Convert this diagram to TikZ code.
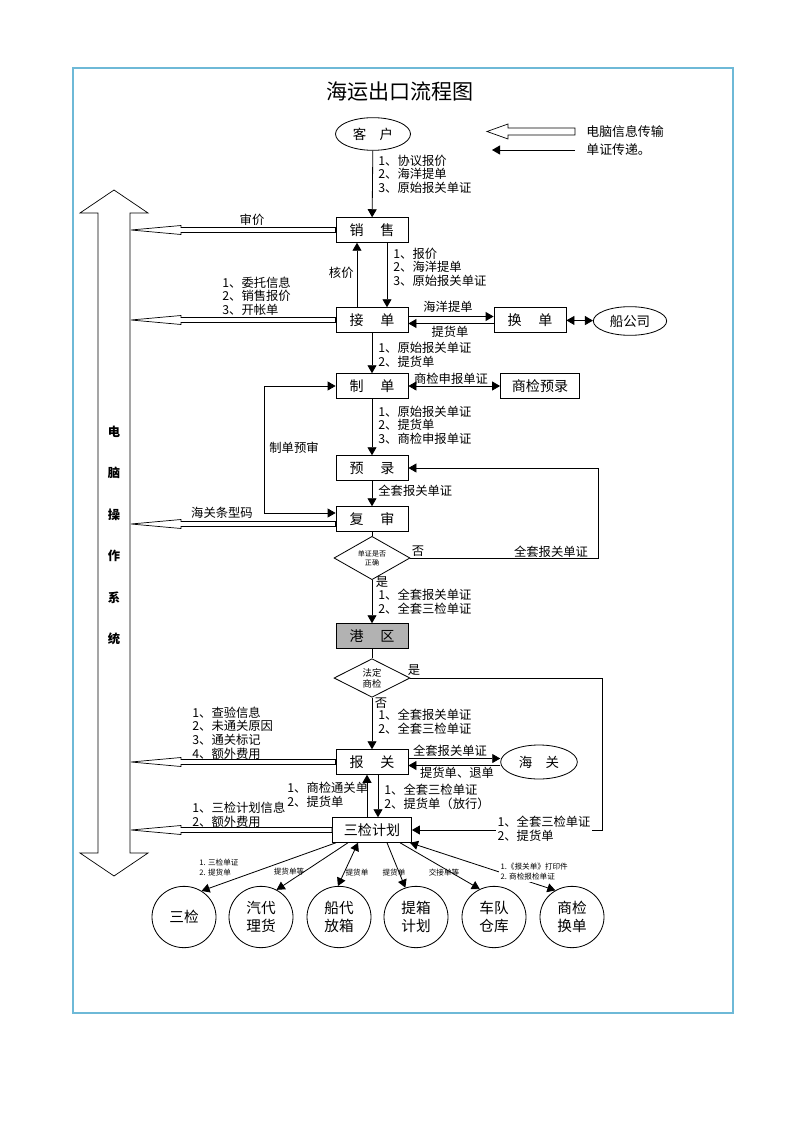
\documentclass[tikz,border=0pt]{standalone}
\usepackage{fontspec}
\setmainfont{Noto Sans CJK SC}
\usetikzlibrary{arrows.meta,shapes.geometric,positioning}
\definecolor{framecol}{RGB}{110,185,215}

\begin{document}
\begin{tikzpicture}
[x=0.03cm,y=-0.03cm,line width=0.7pt,
>={Triangle[length=2.4mm,width=2.7mm]},
box/.style={draw,rectangle,minimum width=2.16cm,minimum height=0.74cm,inner sep=0pt,font=\fontsize{12}{14}\selectfont},
oval/.style={draw,ellipse,inner sep=0pt,font=\fontsize{11.5}{14}\selectfont},
dia/.style={draw,diamond,minimum width=2.28cm,minimum height=1.12cm,inner sep=0pt,align=center},
circ/.style={draw,ellipse,minimum width=1.92cm,minimum height=1.84cm,inner sep=0pt,align=center,font=\fontsize{12.5}{15.5}\selectfont},
lbl/.style={inner sep=0pt,align=left,anchor=west,font=\fontsize{10.5}{11.6}\selectfont},
tiny/.style={inner sep=0pt,align=left,font=\fontsize{6.5}{8.5}\selectfont},
hollow/.style={draw,fill=white,line width=0.6pt,to path={([shift={(0,-2.5)}]\tikztostart) -- ([shift={(50,-2.5)}]\tikztotarget) -- ([shift={(50,-4.5)}]\tikztotarget) -- (\tikztotarget) -- ([shift={(50,4.5)}]\tikztotarget) -- ([shift={(50,2.5)}]\tikztotarget) -- ([shift={(0,2.5)}]\tikztostart) -- cycle}}]
\fill[white] (0,0) rectangle (800,1132);
\useasboundingbox (0,0) rectangle (800,1132);
\draw[framecol,line width=1.1pt] (73,68) rectangle (733,1013);

% title and legend
\node[font=\fontsize{18}{20}\selectfont] (title) at (400,92) {海运出口流程图};
\draw[line width=0.6pt] (575,128) -- (508,128) -- (508,124) -- (487,131.5) -- (508,139) -- (508,135) -- (575,135) -- cycle;
\coordinate (lga) at (575,150);
\coordinate (lgb) at (492,150);
\draw[->] (lga) -- (lgb);
\node[lbl,font=\fontsize{11}{13}\selectfont] (leg1) at (586,132) {电脑信息传输};
\node[lbl,font=\fontsize{11}{13}\selectfont] (leg2) at (586,150) {单证传递。};

% computer system
\draw[fill=white,line width=0.6pt] (98,853) -- (98,213) -- (80,213) -- (114,190) -- (148,213) -- (130,213) -- (130,853) -- (148,853) -- (114,876) -- (80,853) -- cycle;
\foreach \t [count=\i] in {电,脑,操,作,系,统}
  \node[font=\fontsize{10.5}{12}\selectfont\bfseries] (v\i) at (114,390+41.5*\i) {\t};
\coordinate (sysr) at (131,0);

% main flow
\node[oval,minimum width=2.25cm,minimum height=0.98cm] (kh) at (373,134) {客\hspace{1em}户};
\node[box] (xs) at (372,230) {销\hspace{1.2em}售};
\node[box] (jd) at (372,320) {接\hspace{1.2em}单};
\node[box] (hd) at (530,320) {换\hspace{1.2em}单};
\node[oval,minimum width=2.2cm,minimum height=0.86cm] (cgs) at (630,321) {船公司};
\node[box] (zd) at (372,386) {制\hspace{1.2em}单};
\node[box,minimum width=2.37cm] (sjyl) at (540,386) {商检预录};
\node[box] (yl) at (372,468) {预\hspace{1.2em}录};
\node[box] (fs) at (372,519) {复\hspace{1.2em}审};
\node[dia,font=\fontsize{6}{7.5}\selectfont] (pd1) at (372,558) {单证是否\\正确};
\node[box,fill=black!30] (gq) at (372,636) {港\hspace{1.2em}区};
\node[dia,font=\fontsize{8}{9.5}\selectfont] (pd2) at (372,678) {法定\\商检};
\node[box] (bg) at (372,762) {报\hspace{1.2em}关};
\node[oval,minimum width=2.3cm,minimum height=1.02cm] (hg) at (539,762) {海\hspace{1em}关};
\node[box,minimum width=2.37cm] (sjjh) at (372,830) {三检计划};

% bottom parties
\node[circ] (sj) at (184,917) {三检};
\node[circ] (qd) at (261,917) {汽代\\理货};
\node[circ] (cd) at (339,917) {船代\\放箱};
\node[circ] (tx) at (416,917) {提箱\\计划};
\node[circ] (cdk) at (494,917) {车队\\仓库};
\node[circ] (sjhd) at (572,917) {商检\\换单};

% customer to sales
\draw[->] (kh) -- (xs);
\node[lbl] (l1) at (378,174) {1、协议报价\\2、海洋提单\\3、原始报关单证};
\coordinate (s1) at (sysr |- xs.west);
\draw[hollow] (xs.west) to (s1);
\node[lbl,anchor=center] (lsj) at (252,220) {审价};

% sales and order
\draw[->] ([shift={(-15,0)}]jd.north) -- ([shift={(-15,0)}]xs.south);
\draw[->] ([shift={(15,0)}]xs.south) -- ([shift={(15,0)}]jd.north);
\node[lbl,anchor=east] (lhj) at (354,273) {核价};
\node[lbl] (l2) at (393,267) {1、报价\\2、海洋提单\\3、原始报关单证};
\coordinate (s2) at (sysr |- jd.west);
\draw[hollow] (jd.west) to (s2);
\node[lbl] (l3) at (222,296) {1、委托信息\\2、销售报价\\3、开帐单};

% order and exchange
\draw[->] ([shift={(0,-3.5)}]jd.east) -- ([shift={(0,-3.5)}]hd.west);
\draw[->] ([shift={(0,3.5)}]hd.west) -- ([shift={(0,3.5)}]jd.east);
\node[lbl,anchor=center] (lhy) at (448,307) {海洋提单};
\node[lbl,anchor=center] (lth) at (450,332) {提货单};
\draw[<->] (hd) -- (cgs);

% documents
\draw[->] (jd) -- (zd);
\node[lbl] (l4) at (378,355) {1、原始报关单证\\2、提货单};
\draw[<->] (zd) -- (sjyl);
\node[lbl,anchor=center] (lsb) at (451,379) {商检申报单证};
\draw[->] (zd) -- (yl);
\node[lbl] (l5) at (378,425) {1、原始报关单证\\2、提货单\\3、商检申报单证};
\draw[->] (yl) -- (fs);
\node[lbl] (l6) at (378,491) {全套报关单证};
\draw[<->] (zd.west) -- ++(-71,0) |- ([shift={(0,-6)}]fs.west);
\node[lbl,anchor=center] (lys) at (294,448) {制单预审};
\coordinate (fsw) at ([shift={(0,5)}]fs.west);
\coordinate (s3) at (sysr |- fsw);
\draw[hollow] (fsw) to (s3);
\node[lbl,anchor=center] (ltx) at (222,513) {海关条型码};

% check
\draw (fs) -- (pd1);
\draw[->] (pd1.east) -- ++(188,0) |- (yl.east);
\node[lbl,anchor=center] (lf1) at (418,551) {否};
\node[lbl,anchor=center] (l7) at (551,552) {全套报关单证};
\draw[->] (pd1) -- (gq);
\node[lbl,anchor=center] (ls1) at (382,582) {是};
\node[lbl] (l8) at (378,602) {1、全套报关单证\\2、全套三检单证};

% port area
\draw (gq) -- (pd2);
\draw[->] (pd2.east) -- ++(192,0) |- (sjjh.east);
\node[lbl,anchor=center] (ls2) at (414,670) {是};
\node[lbl,fill=white,inner sep=1pt] (l9) at (496,829) {1、全套三检单证\\2、提货单};
\draw[->] (pd2) -- (bg);
\node[lbl,anchor=center] (lf2) at (381,703) {否};
\node[lbl] (l10) at (378,722) {1、全套报关单证\\2、全套三检单证};

% customs
\coordinate (s4) at (sysr |- bg.west);
\draw[hollow] (bg.west) to (s4);
\node[lbl] (l11) at (192,733) {1、查验信息\\2、未通关原因\\3、通关标记\\4、额外费用};
\draw[->] ([shift={(0,-3.5)}]bg.east) -- ([shift={(0,-3.5)}]hg.west);
\draw[->] ([shift={(0,3.5)}]hg.west) -- ([shift={(0,3.5)}]bg.east);
\node[lbl,anchor=center] (lqt) at (450,751) {全套报关单证};
\node[lbl,anchor=center] (ltd) at (457,773) {提货单、退单};
\draw[->] ([shift={(-5,0)}]sjjh.north) -- ([shift={(-5,0)}]bg.south);
\draw[->] ([shift={(6,0)}]bg.south) -- ([shift={(6,0)}]sjjh.north);
\node[lbl] (l12) at (287,795) {1、商检通关单\\2、提货单};
\node[lbl] (l13) at (384,797) {1、全套三检单证\\2、提货单（放行）};

% inspection plan
\coordinate (s5) at (sysr |- sjjh.west);
\draw[hollow] (sjjh.west) to (s5);
\node[lbl] (l14) at (192,815) {1、三检计划信息\\2、额外费用};
\draw[->] ([shift={(-36,0)}]sjjh.south) -- (sj.56);
\draw[->] ([shift={(-24,0)}]sjjh.south) -- (qd.60);
\draw[<->] ([shift={(-14,0)}]sjjh.south) -- (cd.92);
\draw[->] ([shift={(15,0)}]sjjh.south) -- (tx.110);
\draw[->] ([shift={(28,0)}]sjjh.south) -- (cdk.117);
\draw[<->] ([shift={(38,0)}]sjjh.south) -- (sjhd.122);
\node[tiny,anchor=west] (b1) at (199,868) {1. 三检单证\\2. 提货单};
\node[tiny] (b2) at (289,872) {提货单等};
\node[tiny] (b3) at (357,873) {提货单};
\node[tiny] (b4) at (394,873) {提货单};
\node[tiny] (b5) at (444,873) {交接单等};
\node[tiny,anchor=west,fill=white,inner sep=1pt] (b6) at (499,872) {1.《报关单》打印件\\2. 商检报检单证};
\end{tikzpicture}
\end{document}
